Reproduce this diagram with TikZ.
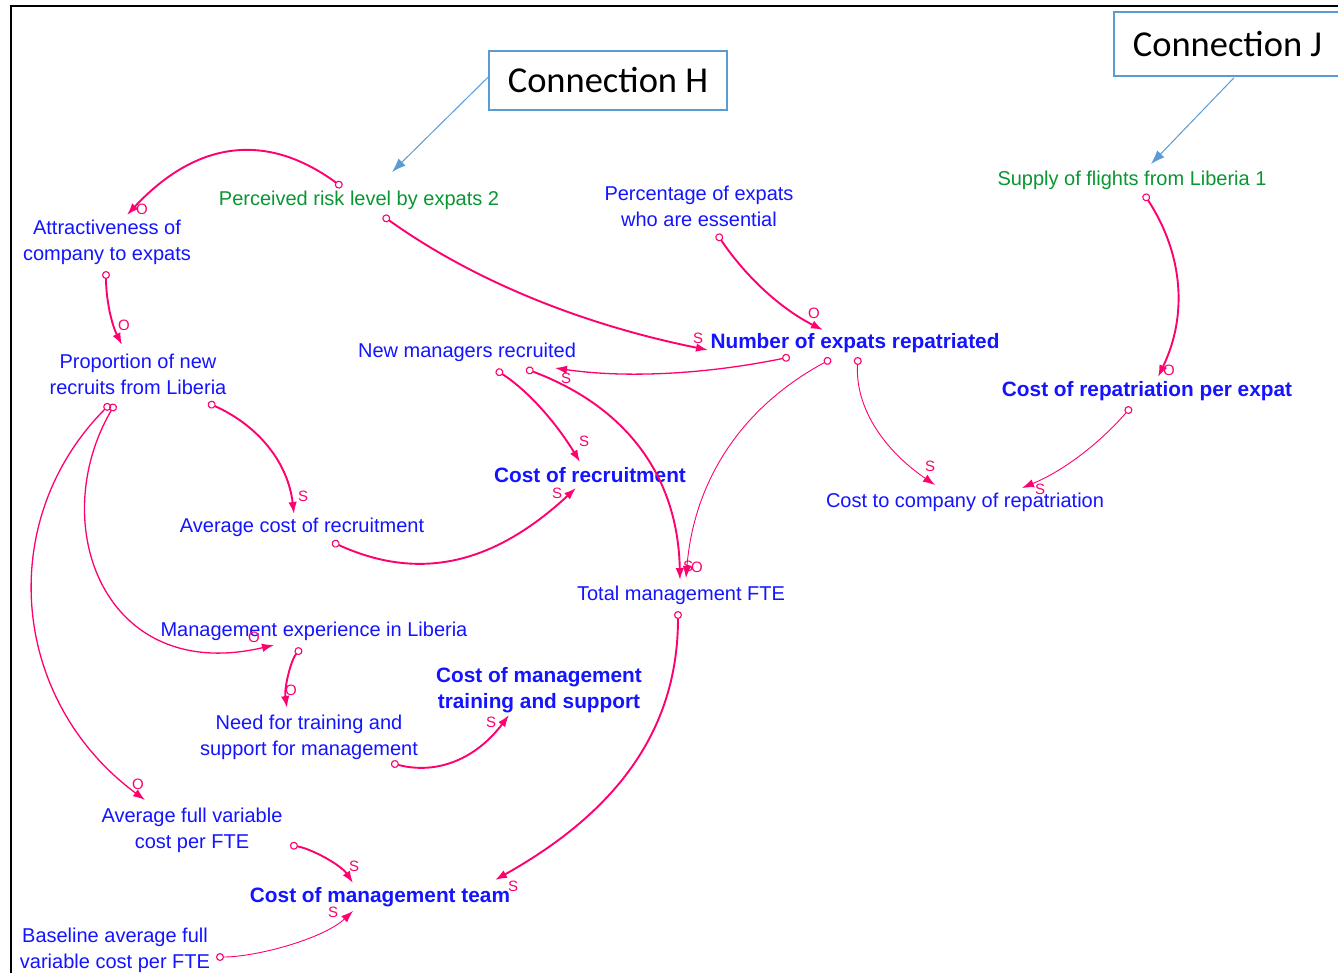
\documentclass[tikz,border=0pt]{standalone}
\usepackage{fontspec}
\setmainfont{Liberation Sans}
\newfontfamily\notefont{Carlito}
\usetikzlibrary{arrows.meta}
\definecolor{linkpink}{RGB}{255,0,110}
\definecolor{varblue}{RGB}{20,20,255}
\definecolor{extgreen}{RGB}{10,150,50}
\definecolor{noteblue}{RGB}{91,155,213}

\begin{document}
\begin{tikzpicture}[x=1pt,y=-1pt,
  var/.style={text=varblue, font=\fontsize{20}{26}\selectfont, align=center, inner sep=0pt},
  keyvar/.style={var, font=\fontsize{20.8}{26}\selectfont\bfseries},
  ext/.style={var, text=extgreen},
  link/.style={draw=linkpink, line width=1.9pt,
    {Circle[open,length=8pt,width=8pt,line width=1.1pt]}-{Latex[length=12pt,width=8.5pt]}},
  midlink/.style={link, line width=1.3pt},
  thinlink/.style={link, line width=0.9pt},
  pol/.style={text=linkpink, font=\fontsize{15}{15}\selectfont, inner sep=0pt},
  note/.style={draw=noteblue, line width=1.5pt, fill=white, text=black,
    font=\notefont\fontsize{36.5}{40}\selectfont, inner sep=0pt},
  notelink/.style={draw=noteblue, line width=1pt, -{Latex[length=14pt,width=10pt]}}
]
\useasboundingbox (0,0) rectangle (1338,973);
\clip (0,0) rectangle (1338,973);
\fill[white] (0,0) rectangle (1338,973);
% outer frame
\draw[line width=2pt] (11,990) -- (11,6) -- (1350,6);

% variables
\node[ext]    (risk)    at (359,200) {Perceived risk level by expats 2};
\node[var]    (attr)    at (107,242) {Attractiveness of\\company to expats};
\node[var]    (prop)    at (138,374) {Proportion of new\\recruits from Liberia};
\node[var]    (pct)     at (699,206) {Percentage of expats\\who are essential};
\node[ext]    (flights) at (1132,180) {Supply of flights from Liberia 1};
\node[keyvar] (nexp)    at (855,343) {Number of expats repatriated};
\node[var]    (newm)    at (467,352) {New managers recruited};
\node[keyvar] (crep)    at (1147,391) {Cost of repatriation per expat};
\node[keyvar] (crec)    at (590,475) {Cost of recruitment};
\node[var]    (ccomp)   at (965,502) {Cost to company of repatriation};
\node[var]    (avgrec)  at (302,527) {Average cost of recruitment};
\node[var]    (tot)     at (681,595) {Total management FTE};
\node[var]    (mexp)    at (314,631) {Management experience in Liberia};
\node[keyvar] (cmts)    at (539,690) {Cost of management\\training and support};
\node[var]    (need)    at (309,737) {Need for training and\\support for management};
\node[var]    (afv)     at (192,830) {Average full variable\\cost per FTE};
\node[keyvar] (cmt)     at (380,897) {Cost of management team};
\node[var]    (base)    at (115,950) {Baseline average full\\variable cost per FTE};

% connection notes
\node[note, minimum width=238pt, minimum height=59pt] (hbox) at (608,80.5) {Connection H};
\node[note, minimum width=227pt, minimum height=64pt] (jbox) at (1227.5,44) {Connection J};
\draw[notelink] ([yshift=3.5]hbox.west) -- ([shift={(33,-28)}]risk.center);
\draw[notelink] ([shift={(6.5,1)}]jbox.south) -- ([shift={(19,-16)}]flights.center);

% causal links
\draw[link] ([shift={(-17,-13)}]risk.center) .. controls +(-75,-55) and +(70,-75) ..
  ([shift={(20,-27)}]attr.center) node[pol, at end, shift={(15,-6)}] (p1) {O};
\draw[link] ([shift={(24,16)}]risk.center) .. controls +(88,63) and +(-129,-26) ..
  ([shift={(-147,7)}]nexp.center) node[pol, at end, shift={(-10,-12)}] (p2) {S};
\draw[link] ([shift={(18,28)}]pct.center) .. controls +(29,43) and +(-42,-21) ..
  ([shift={(-32,-13)}]nexp.center) node[pol, at end, shift={(-9,-17)}] (p3) {O};
\draw[link] ([shift={(-1,29)}]attr.center) .. controls +(0,27) and +(-11,-22) ..
  ([shift={(-16,-29)}]prop.center) node[pol, at end, shift={(2,-20)}] (p4) {O};
\draw[midlink] ([shift={(-65,14)}]nexp.center) .. controls +(-88,18) and +(68,10) ..
  ([shift={(88,16)}]newm.center) node[pol, at end, shift={(11,10)}] (p5) {S};
\draw[thinlink] ([shift={(-24,16)}]nexp.center) .. controls +(-89,48) and +(8,-98) ..
  ([shift={(5,-17)}]tot.center) node[pol, at end, shift={(11,-11)}] (p6) {O};
\draw[thinlink] ([shift={(3,14)}]nexp.center) .. controls +(-3,48) and +(-54,-37) ..
  ([shift={(-30,-17)}]ccomp.center) node[pol, at end, shift={(-5,-19)}] (p7) {S};
\draw[link] ([shift={(12,14)}]flights.center) .. controls +(39,60) and +(30,-62) ..
  ([shift={(11,-14)}]crep.center) node[pol, at end, shift={(11,-7)}] (p8) {O};
\draw[thinlink] ([shift={(-16,16)}]crep.center) .. controls +(-32,37) and +(41,-17) ..
  ([shift={(57,-14)}]ccomp.center) node[pol, at end, shift={(18,1)}] (p9) {S};
\draw[link] ([shift={(70,29)}]prop.center) .. controls +(51,23) and +(-6,-51) ..
  ([shift={(-8,-13)}]avgrec.center) node[pol, at end, shift={(9,-18)}] (p10) {S};
\draw[link] ([shift={(29,18)}]newm.center) .. controls +(31,20) and +(-25,-41) ..
  ([shift={(-10,-13)}]crec.center) node[pol, at end, shift={(4,-21)}] (p11) {S};
\draw[link] ([shift={(59,17)}]newm.center) .. controls +(101,38) and +(-2,-103) ..
  ([shift={(-1,-15)}]tot.center) node[pol, at end, shift={(8,-14)}] (p12) {S};
\draw[link] ([shift={(30,15)}]avgrec.center) .. controls +(88,40) and +(-82,76) ..
  ([shift={(-14,13)}]crec.center) node[pol, at end, shift={(-19,5)}] (p13) {S};
\draw[midlink] ([shift={(-23,30)}]prop.center) .. controls +(-70,120) and +(-170,40) ..
  ([shift={(-40,14)}]mexp.center) node[pol, at end, shift={(-20,-8)}] (p14) {O};
\draw[midlink] ([shift={(-28,30)}]prop.center) .. controls +(-115,116) and +(-135,-100) ..
  ([shift={(-47,-30)}]afv.center) node[pol, at end, shift={(-7,-16)}] (p15) {O};
\draw[link] ([shift={(-13,17)}]mexp.center) .. controls +(-10,12) and +(-3,-20) ..
  ([shift={(-22,-29)}]need.center) node[pol, at end, shift={(4,-18)}] (p16) {O};
\draw[link] ([shift={(82,26)}]need.center) .. controls +(46,12) and +(-33,44) ..
  ([shift={(-30,25)}]cmts.center) node[pol, at end, shift={(-18,7)}] (p17) {S};
\draw[link] ([shift={(98,15)}]afv.center) .. controls +(22,4) and +(-12,-18) ..
  ([shift={(-27,-14)}]cmt.center) node[pol, at end, shift={(1,-17)}] (p18) {S};
\draw[link] ([shift={(-3,16)}]tot.center) .. controls +(0,116) and +(125,-70) ..
  ([shift={(115,-17)}]cmt.center) node[pol, at end, shift={(18,6)}] (p19) {S};
\draw[thinlink] ([shift={(101,7)}]base.center) .. controls +(40,0) and +(-30,28) ..
  ([shift={(-27,14)}]cmt.center) node[pol, at end, shift={(-20,1)}] (p20) {S};
\end{tikzpicture}
\end{document}
